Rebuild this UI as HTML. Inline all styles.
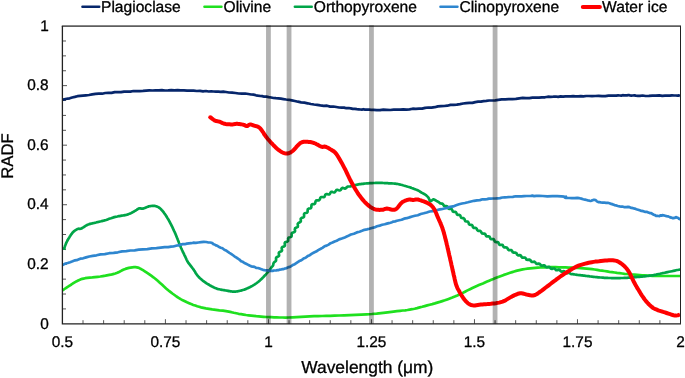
<!DOCTYPE html>
<html><head><meta charset="utf-8"><title>Spectra</title>
<style>html,body{margin:0;padding:0;background:#fff;overflow:hidden}body{width:685px;height:378px;position:relative}</style></head>
<body>
<svg width="685" height="378" viewBox="0 0 685 378" style="position:absolute;left:0;top:0;text-rendering:geometricPrecision">
<style>text{stroke:#000;stroke-width:0.3px;stroke-linejoin:round}</style>
<rect width="685" height="378" fill="#fff"/>
<path d="M62.4 308.92h3.6 M62.4 294.03h3.6 M62.4 279.15h3.6 M62.4 264.26h4.6 M62.4 249.38h3.6 M62.4 234.49h3.6 M62.4 219.61h3.6 M62.4 204.72h4.6 M62.4 189.84h3.6 M62.4 174.95h3.6 M62.4 160.07h3.6 M62.4 145.18h4.6 M62.4 130.30h3.6 M62.4 115.41h3.6 M62.4 100.53h3.6 M62.4 85.64h4.6 M62.4 70.76h3.6 M62.4 55.87h3.6 M62.4 40.99h3.6 M83.00 323.8v-3.6 M103.61 323.8v-3.6 M124.21 323.8v-3.6 M144.81 323.8v-3.6 M165.42 323.8v-4.6 M186.02 323.8v-3.6 M206.62 323.8v-3.6 M227.23 323.8v-3.6 M247.83 323.8v-3.6 M268.43 323.8v-4.6 M289.04 323.8v-3.6 M309.64 323.8v-3.6 M330.24 323.8v-3.6 M350.85 323.8v-3.6 M371.45 323.8v-4.6 M392.05 323.8v-3.6 M412.66 323.8v-3.6 M433.26 323.8v-3.6 M453.86 323.8v-3.6 M474.47 323.8v-4.6 M495.07 323.8v-3.6 M515.67 323.8v-3.6 M536.28 323.8v-3.6 M556.88 323.8v-3.6 M577.48 323.8v-4.6 M598.09 323.8v-3.6 M618.69 323.8v-3.6 M639.29 323.8v-3.6 M659.90 323.8v-3.6" stroke="#444" stroke-width="0.9" fill="none"/>
<polyline points="62.5,99.4 63.8,99.6 65.5,99.0 67.5,98.7 69.7,98.3 72.2,97.5 74.8,96.9 77.4,96.2 80.1,95.9 82.9,95.6 85.9,95.3 89.0,95.0 92.2,94.4 95.5,93.9 98.8,93.7 102.1,93.7 105.3,93.0 108.4,92.9 111.6,92.9 114.7,92.1 117.8,92.2 121.0,92.2 124.1,91.6 127.3,91.6 130.4,91.6 133.5,91.0 136.7,91.1 139.8,91.1 143.0,90.9 146.2,90.6 149.3,90.4 152.5,90.5 155.6,90.3 158.7,90.3 161.9,90.2 165.0,90.5 168.1,90.4 171.3,90.2 174.4,90.4 177.6,90.2 180.7,90.4 183.9,90.4 187.1,90.6 190.4,90.6 193.6,90.7 196.8,91.0 200.0,90.9 203.0,91.3 205.9,91.0 208.6,91.5 211.2,91.4 213.6,91.5 216.0,91.7 218.3,91.7 220.7,91.8 223.3,91.7 226.0,92.0 228.9,92.5 232.1,92.7 235.4,93.0 238.7,93.5 242.0,93.6 245.2,93.5 248.3,94.0 251.1,94.5 253.6,94.6 256.0,95.3 258.1,95.7 260.2,96.0 262.2,96.1 264.3,96.7 266.4,96.6 268.7,97.1 271.1,97.5 273.5,98.0 275.9,98.2 278.3,98.3 280.9,98.7 283.4,99.1 286.1,99.5 288.9,99.8 291.8,100.4 294.8,101.0 298.0,101.7 301.1,102.3 304.4,102.7 307.6,103.3 310.8,104.0 314.0,104.5 317.2,104.9 320.4,105.4 323.7,105.8 327.0,105.7 330.2,106.6 333.3,106.5 336.3,107.0 339.1,107.5 341.7,107.7 344.1,107.6 346.4,108.2 348.6,108.0 350.7,108.4 352.8,108.9 354.8,108.8 356.8,109.1 358.7,109.3 360.3,109.5 361.9,109.6 363.4,109.2 365.0,109.6 366.8,109.7 368.8,109.5 371.1,109.8 373.8,109.9 376.8,110.1 380.0,110.2 383.4,109.7 386.8,109.8 390.3,110.0 393.7,109.7 397.0,109.6 400.2,109.7 403.3,109.4 406.5,109.6 409.6,109.4 412.7,108.7 415.8,108.8 419.0,108.7 422.1,108.6 425.2,107.9 428.4,107.5 431.5,107.6 434.7,107.2 437.9,106.4 441.0,106.2 444.2,106.0 447.3,105.7 450.5,104.9 453.6,104.9 456.8,104.6 460.0,104.1 463.2,103.5 466.3,103.1 469.4,102.9 472.4,102.9 475.3,102.1 478.1,101.7 480.9,101.6 483.6,101.1 486.3,100.9 489.1,100.5 492.0,100.5 495.1,100.3 498.3,99.9 501.7,99.4 505.2,99.3 508.7,99.2 512.3,99.1 515.9,98.9 519.3,98.3 522.7,97.9 526.0,98.2 529.3,98.1 532.5,97.6 535.8,97.7 538.9,97.6 542.0,97.3 545.0,97.3 547.9,96.7 550.7,96.8 553.3,96.7 555.8,96.5 558.2,96.9 560.6,96.4 563.0,96.7 565.5,96.3 568.0,96.4 570.6,96.4 573.1,96.2 575.6,96.4 578.2,96.4 580.8,96.2 583.4,96.4 586.2,96.0 589.0,96.0 592.0,96.1 595.2,96.0 598.6,95.9 602.0,96.2 605.3,96.1 608.5,95.6 611.4,95.7 614.0,95.5 616.2,95.6 618.1,95.4 619.8,95.5 621.2,95.6 622.7,95.2 624.0,95.3 625.5,95.3 627.0,95.4 628.5,95.0 630.0,95.4 631.3,95.6 632.8,95.5 634.2,95.4 635.9,95.7 637.8,95.8 640.0,95.8 642.6,95.5 645.6,96.0 648.9,95.9 652.4,95.6 655.8,95.6 659.2,95.3 662.3,95.8 665.0,95.7 667.5,95.6 669.8,95.7 672.0,95.4 674.1,95.5 675.9,95.5 677.5,95.7 678.9,95.4 680.0,95.9" fill="none" stroke="#06266b" stroke-width="2.7" stroke-linejoin="round" stroke-linecap="butt"/>
<polyline points="62.5,290.3 63.3,289.8 64.5,289.0 65.8,288.1 67.3,287.1 68.8,286.2 70.1,285.3 71.4,284.5 72.6,283.7 73.8,282.9 75.1,282.1 76.3,281.4 77.6,280.8 78.8,280.2 79.8,279.8 80.9,279.3 82.1,278.9 83.5,278.6 85.2,278.2 87.3,277.9 89.7,277.6 92.3,277.4 95.0,277.1 97.7,276.8 100.3,276.5 102.9,276.1 105.5,275.7 108.1,275.2 110.7,274.7 113.1,274.1 115.3,273.5 117.3,272.8 119.0,272.0 120.7,271.1 122.2,270.3 123.8,269.5 125.4,268.9 127.1,268.4 128.9,267.9 130.6,267.6 132.3,267.3 134.0,267.2 135.5,267.2 136.8,267.4 138.0,267.6 139.1,268.0 140.2,268.6 141.5,269.3 143.0,270.2 144.8,271.3 146.8,272.6 149.0,274.1 151.2,275.7 153.4,277.3 155.6,279.0 157.7,280.8 159.8,282.7 161.9,284.6 164.0,286.6 166.1,288.5 168.2,290.3 170.3,291.9 172.4,293.5 174.5,295.0 176.5,296.5 178.6,297.8 180.7,299.1 182.8,300.3 184.9,301.3 187.0,302.3 189.1,303.2 191.2,304.1 193.3,304.9 195.3,305.6 197.2,306.3 199.1,306.8 201.1,307.4 203.4,307.9 205.9,308.4 208.9,308.9 212.2,309.4 215.8,309.8 219.4,310.3 222.9,310.7 226.0,311.2 228.8,311.7 231.4,312.2 233.9,312.8 236.3,313.3 238.6,313.8 241.1,314.2 243.6,314.6 246.1,315.0 248.6,315.3 251.2,315.6 253.7,315.9 256.2,316.2 258.7,316.4 261.1,316.6 263.6,316.8 266.1,317.0 268.6,317.1 271.3,317.2 274.0,317.3 276.7,317.4 279.5,317.5 282.4,317.5 285.5,317.6 288.9,317.5 292.6,317.4 296.7,317.2 301.0,316.9 305.4,316.6 309.7,316.4 314.0,316.2 318.1,316.1 322.1,316.0 326.1,315.9 330.2,315.8 334.5,315.7 339.1,315.5 344.2,315.3 349.7,315.1 355.4,314.9 361.2,314.6 366.7,314.3 371.8,314.0 376.6,313.6 381.1,313.1 385.5,312.6 389.6,312.1 393.5,311.6 397.0,311.2 400.1,310.8 402.8,310.5 405.2,310.3 407.4,310.0 409.7,309.6 412.1,309.2 414.6,308.7 417.1,308.1 419.7,307.4 422.2,306.8 424.7,306.1 427.2,305.4 429.7,304.7 432.2,304.1 434.8,303.4 437.3,302.6 439.8,301.9 442.3,301.1 444.8,300.3 447.3,299.4 449.8,298.5 452.3,297.6 454.8,296.6 457.3,295.5 459.8,294.3 462.4,293.1 465.0,291.7 467.5,290.4 470.0,289.2 472.4,288.0 474.6,287.0 476.8,286.0 478.9,285.1 480.9,284.2 482.9,283.4 485.0,282.5 487.1,281.6 489.2,280.7 491.3,279.8 493.4,279.0 495.5,278.1 497.6,277.3 499.7,276.5 501.8,275.7 503.8,274.9 505.9,274.2 508.0,273.5 510.1,272.8 512.2,272.1 514.2,271.5 516.2,270.9 518.3,270.4 520.5,269.9 522.7,269.4 525.1,269.0 527.5,268.7 530.1,268.4 532.7,268.1 535.3,267.9 537.8,267.7 540.3,267.5 542.7,267.4 545.1,267.3 547.6,267.2 550.2,267.2 552.9,267.2 555.8,267.2 559.0,267.3 562.2,267.3 565.5,267.4 568.7,267.6 571.8,267.7 574.8,267.8 577.9,268.0 580.8,268.2 583.8,268.4 586.6,268.6 589.4,268.9 592.1,269.2 594.6,269.5 597.1,269.9 599.6,270.3 602.0,270.6 604.5,271.0 607.0,271.4 609.5,271.8 612.0,272.1 614.6,272.5 617.1,272.9 619.6,273.2 622.1,273.5 624.6,273.8 627.2,274.0 629.7,274.3 632.2,274.5 634.7,274.7 637.2,274.9 639.7,275.1 642.2,275.3 644.8,275.4 647.3,275.6 649.8,275.7 652.3,275.8 654.8,275.9 657.3,275.9 659.9,275.9 662.4,276.0 664.9,276.0 667.6,276.0 670.5,276.0 673.4,276.0 676.1,276.0 678.4,276.0 680.0,276.0" fill="none" stroke="#1fe01f" stroke-width="2.7" stroke-linejoin="round" stroke-linecap="butt"/>
<polyline points="64.1,249.8 64.1,249.6 64.2,249.4 64.2,249.2 64.3,248.9 64.3,248.6 64.4,248.3 64.5,247.9 64.5,247.5 64.6,247.2 64.7,246.8 64.9,246.4 65.0,246.0 65.1,245.6 65.3,245.2 65.5,244.8 65.7,244.3 65.8,243.9 66.0,243.4 66.3,242.9 66.5,242.4 66.7,241.9 67.0,241.4 67.3,240.8 67.6,240.3 67.9,239.7 68.3,239.1 68.7,238.4 69.1,237.8 69.5,237.1 69.9,236.4 70.4,235.7 70.8,235.0 71.3,234.4 71.7,233.8 72.2,233.2 72.6,232.7 73.0,232.2 73.4,231.8 73.9,231.4 74.3,231.1 74.7,230.7 75.2,230.4 75.6,230.1 76.0,229.9 76.4,229.6 76.8,229.4 77.2,229.2 77.6,229.0 78.0,228.9 78.3,228.8 78.6,228.7 78.9,228.7 79.1,228.7 79.4,228.8 79.7,228.8 80.0,228.8 80.3,228.8 80.6,228.7 81.0,228.6 81.4,228.5 81.8,228.3 82.3,228.0 82.8,227.7 83.3,227.4 83.8,227.1 84.3,226.7 84.9,226.3 85.4,226.0 86.0,225.6 86.6,225.3 87.1,225.0 87.7,224.7 88.3,224.5 88.9,224.3 89.4,224.1 90.0,223.9 90.6,223.8 91.2,223.6 91.8,223.5 92.5,223.3 93.1,223.2 93.8,223.0 94.5,222.9 95.2,222.7 96.0,222.5 96.7,222.3 97.5,222.1 98.4,221.9 99.2,221.7 100.1,221.5 101.0,221.3 101.8,221.1 102.7,220.9 103.6,220.7 104.5,220.4 105.3,220.2 106.1,220.0 106.9,219.7 107.7,219.4 108.5,219.1 109.3,218.8 110.1,218.5 111.0,218.3 111.8,218.0 112.6,217.7 113.5,217.4 114.4,217.1 115.3,216.9 116.3,216.7 117.3,216.5 118.4,216.2 119.5,216.1 120.6,215.9 121.8,215.7 122.9,215.5 124.0,215.3 125.0,215.1 126.1,214.9 127.0,214.7 127.9,214.4 128.7,214.1 129.5,213.8 130.2,213.5 130.9,213.2 131.6,212.8 132.3,212.5 132.9,212.1 133.4,211.8 134.0,211.5 134.5,211.2 135.0,210.9 135.5,210.6 135.9,210.4 136.3,210.1 136.7,209.9 137.0,209.7 137.3,209.4 137.6,209.2 137.8,209.1 138.1,208.9 138.4,208.7 138.6,208.6 138.9,208.5 139.2,208.4 139.5,208.3 139.8,208.3 140.1,208.3 140.4,208.4 140.6,208.4 140.9,208.5 141.2,208.6 141.5,208.6 141.9,208.7 142.2,208.7 142.6,208.7 143.0,208.6 143.4,208.5 143.9,208.3 144.4,208.2 144.9,207.9 145.4,207.7 146.0,207.5 146.5,207.2 147.1,207.0 147.7,206.8 148.2,206.6 148.8,206.4 149.3,206.3 149.8,206.2 150.4,206.1 150.9,206.0 151.4,206.0 152.0,205.9 152.5,205.9 153.1,205.9 153.6,205.9 154.1,205.9 154.6,205.9 155.1,206.0 155.6,206.1 156.1,206.2 156.5,206.4 156.9,206.5 157.4,206.7 157.8,206.9 158.2,207.1 158.6,207.3 159.0,207.6 159.4,207.9 159.8,208.2 160.2,208.5 160.6,208.9 161.0,209.3 161.4,209.7 161.8,210.2 162.3,210.6 162.7,211.1 163.1,211.6 163.5,212.2 163.9,212.7 164.3,213.3 164.8,213.9 165.2,214.5 165.6,215.1 166.0,215.7 166.4,216.4 166.9,217.1 167.3,217.8 167.7,218.5 168.2,219.2 168.6,220.0 169.0,220.7 169.4,221.5 169.9,222.3 170.3,223.1 170.7,223.9 171.1,224.7 171.5,225.5 172.0,226.4 172.4,227.2 172.8,228.1 173.2,229.0 173.6,229.9 174.0,230.8 174.5,231.7 174.9,232.6 175.3,233.5 175.7,234.5 176.1,235.5 176.5,236.5 176.9,237.5 177.4,238.6 177.8,239.7 178.2,240.7 178.6,241.8 179.0,242.9 179.4,243.9 179.9,245.0 180.3,246.0 180.7,247.0 181.1,248.0 181.6,249.0 182.0,250.0 182.5,251.0 182.9,252.0 183.4,252.9 183.9,253.9 184.3,254.8 184.7,255.6 185.1,256.5 185.5,257.2 185.8,257.9 186.1,258.5 186.3,259.0 186.5,259.5 186.7,259.9 186.9,260.2 187.1,260.6 187.2,260.9 187.4,261.2 187.6,261.5 187.8,261.9 188.0,262.3 188.3,262.7 188.6,263.2 189.0,263.7 189.4,264.2 189.8,264.7 190.2,265.2 190.6,265.8 191.1,266.3 191.5,266.9 192.0,267.5 192.4,268.1 192.9,268.6 193.3,269.2 193.7,269.8 194.1,270.4 194.5,271.0 194.9,271.6 195.3,272.2 195.6,272.9 196.0,273.5 196.4,274.1 196.9,274.7 197.3,275.3 197.8,275.9 198.3,276.5 198.8,277.1 199.4,277.6 200.0,278.2 200.6,278.7 201.2,279.2 201.8,279.8 202.4,280.3 203.1,280.8 203.8,281.3 204.5,281.8 205.2,282.3 205.9,282.8 206.6,283.3 207.4,283.8 208.2,284.3 209.1,284.8 209.9,285.3 210.7,285.8 211.6,286.3 212.5,286.7 213.3,287.2 214.2,287.6 215.1,288.0 215.9,288.3 216.7,288.6 217.6,288.9 218.4,289.1 219.3,289.3 220.2,289.5 221.0,289.7 221.9,289.8 222.7,290.0 223.6,290.1 224.4,290.2 225.2,290.4 226.0,290.5 226.8,290.6 227.5,290.8 228.3,290.9 229.0,291.1 229.8,291.2 230.5,291.3 231.2,291.4 231.9,291.5 232.6,291.6 233.3,291.6 234.1,291.6 234.8,291.6 235.5,291.6 236.3,291.5 237.0,291.4 237.8,291.3 238.5,291.1 239.3,291.0 240.0,290.8 240.8,290.6 241.5,290.4 242.2,290.2 242.9,290.0 243.6,289.8 244.3,289.6 244.9,289.4 245.6,289.1 246.2,288.9 246.8,288.6 247.4,288.3 248.0,288.1 248.6,287.8 249.2,287.5 249.9,287.2 250.5,286.8 251.1,286.5 251.7,286.2 252.4,285.8 253.0,285.4 253.6,285.1 254.3,284.7 254.9,284.3 255.5,283.8 256.2,283.4 256.8,283.0 257.4,282.5 258.1,282.0 258.7,281.5 259.3,281.0 260.0,280.4 260.6,279.8 261.3,279.1 262.0,278.5 262.6,277.8 263.3,277.2 263.9,276.5 264.5,275.8 265.1,275.2 265.7,274.6 266.2,274.0 266.7,273.4 267.2,272.9 267.6,272.4 268.1,271.9 268.5,271.4 268.9,270.9 269.3,270.4 269.7,269.9 270.1,269.4 270.5,268.9 270.8,268.3 271.2,267.6 271.7,267.0 272.3,266.4 272.8,265.8 273.2,265.1 273.3,264.2 273.5,263.3 273.9,262.5 274.6,261.9 275.4,261.3 276.0,260.7 276.1,259.8 276.0,258.7 276.1,257.8 276.6,257.2 277.6,256.7 278.6,256.3 279.1,255.6 279.0,254.6 278.8,253.5 278.9,252.6 279.6,252.0 280.6,251.6 281.5,251.2 282.0,250.5 281.9,249.5 281.7,248.5 281.8,247.7 282.3,247.1 283.2,246.7 284.1,246.4 284.8,245.9 284.9,245.2 284.8,244.1 284.7,243.1 285.1,242.3 286.1,241.9 287.3,241.6 288.1,240.9 288.2,239.7 288.1,238.4 288.7,237.5 290.0,237.2 291.3,236.8 291.7,235.7 291.6,234.2 291.9,233.1 293.1,232.6 294.5,232.1 295.1,231.1 294.8,229.5 295.1,228.2 296.4,227.6 297.8,226.9 297.9,225.5 297.7,223.9 298.4,222.9 299.9,222.3 300.8,221.5 300.8,220.1 300.7,218.7 301.6,217.9 303.0,217.5 304.0,216.9 304.1,215.6 304.0,214.2 304.6,213.3 305.8,213.0 307.1,212.7 307.6,211.8 307.6,210.5 307.8,209.3 308.5,208.7 309.7,208.5 310.8,208.2 311.3,207.4 311.4,206.2 311.5,205.1 312.0,204.4 313.1,204.2 314.2,204.1 315.0,203.6 315.3,202.7 315.5,201.5 316.0,200.5 317.0,200.3 318.3,200.4 319.3,200.1 319.9,199.2 320.3,197.9 321.0,197.0 322.1,197.0 323.5,197.2 324.4,196.9 324.9,195.8 325.4,194.6 326.2,194.1 327.4,194.2 328.5,194.5 329.4,194.4 330.0,193.6 330.5,192.6 331.1,191.9 332.0,191.8 333.1,192.2 334.2,192.5 335.0,192.1 335.7,191.1 336.3,190.1 337.3,189.8 338.6,190.2 339.8,190.5 340.8,189.8 341.5,188.5 342.5,187.8 343.8,188.2 345.1,188.6 346.1,188.0 347.0,187.0 348.0,186.5 349.2,186.5 350.3,186.5 351.3,186.1 352.3,185.8 353.3,185.5 354.3,185.3 355.3,185.0 356.4,184.8 357.4,184.6 358.5,184.4 359.6,184.2 360.7,184.1 361.8,183.9 363.0,183.8 364.2,183.6 365.5,183.5 366.8,183.4 368.2,183.3 369.5,183.2 370.8,183.1 372.2,183.1 373.4,183.0 374.6,183.0 375.8,182.9 376.9,182.9 377.9,182.9 378.9,182.9 379.8,182.9 380.6,182.9 381.4,182.9 382.2,182.9 383.0,183.0 383.7,183.0 384.5,183.1 385.3,183.1 386.1,183.2 386.9,183.2 387.7,183.2 388.6,183.3 389.4,183.3 390.3,183.3 391.1,183.4 391.9,183.4 392.8,183.5 393.6,183.5 394.5,183.6 395.3,183.7 396.2,183.8 397.0,183.9 397.8,184.0 398.7,184.2 399.5,184.4 400.4,184.6 401.2,184.8 402.1,185.0 402.9,185.3 403.7,185.5 404.6,185.7 405.4,186.0 406.3,186.2 407.1,186.5 408.0,186.8 408.8,187.0 409.8,187.3 410.7,187.6 411.6,188.0 412.5,188.3 413.4,188.6 414.2,188.9 415.0,189.2 415.8,189.5 416.5,189.7 417.1,190.0 417.6,190.2 418.1,190.4 418.5,190.7 418.8,190.8 419.1,191.0 419.4,191.2 419.6,191.4 419.9,191.6 420.1,191.7 420.4,191.9 420.7,192.1 421.0,192.3 421.4,192.5 421.7,192.7 422.1,192.9 422.5,193.1 422.9,193.3 423.4,193.6 423.8,193.8 424.2,194.0 424.5,194.2 424.9,194.4 425.3,194.7 425.6,194.9 425.9,195.1 426.2,195.4 426.5,195.6 426.8,195.9 427.0,196.1 427.3,196.4 427.5,196.6 427.8,196.9 428.0,197.1 428.2,197.4 428.4,197.6 428.6,197.9 428.8,198.2 428.9,198.5 429.1,198.8 429.2,199.2 429.3,199.5 429.5,199.8 429.6,200.2 429.7,200.5 429.8,200.7 429.9,201.0 430.0,201.2 430.1,201.3 430.2,201.4 430.3,201.4 430.4,201.4 430.6,201.4 430.7,201.3 430.8,201.2 430.9,201.1 431.0,201.0 431.1,200.9 431.2,200.8 431.4,200.7 431.5,200.6 431.6,200.5 431.8,200.4 431.9,200.3 432.1,200.1 432.3,200.0 432.4,199.9 432.6,199.8 432.8,199.6 433.0,199.5 433.1,199.5 433.3,199.4 433.5,199.4 433.7,199.4 433.9,199.5 434.1,199.5 434.3,199.6 434.5,199.7 434.7,199.8 434.9,199.9 435.1,200.1 435.3,200.2 435.5,200.3 435.8,200.5 436.0,200.6 436.2,200.7 436.5,200.9 436.8,201.0 437.0,201.2 437.3,201.3 437.6,201.4 437.9,201.6 438.2,201.7 438.4,201.9 438.7,202.1 438.9,202.2 439.2,202.5 439.4,202.6 439.6,202.8 439.7,202.9 439.9,203.1 440.0,203.2 440.2,203.3 440.4,203.3 440.7,203.4 441.0,203.5 441.4,203.6 442.0,203.6 442.5,203.8 443.1,204.3 443.5,205.0 444.0,205.9 444.9,206.2 446.1,206.1 447.2,206.3 447.8,207.3 448.4,208.5 449.4,208.9 450.8,208.8 451.8,209.2 452.3,210.3 452.8,211.4 453.7,211.8 455.0,211.8 456.0,212.2 456.5,213.3 457.0,214.5 458.0,214.9 459.3,214.9 460.2,215.4 460.7,216.6 461.2,217.7 462.2,218.1 463.6,218.2 464.4,218.9 464.8,220.1 465.3,221.2 466.5,221.5 467.8,221.6 468.5,222.5 468.8,223.8 469.5,224.7 470.8,224.8 472.0,225.1 472.6,226.0 473.0,227.2 473.8,227.9 475.0,227.9 476.1,228.1 476.8,228.9 477.2,230.1 478.0,230.8 479.1,230.8 480.3,230.9 481.0,231.6 481.5,232.7 482.2,233.5 483.3,233.7 484.5,233.6 485.3,234.2 485.8,235.4 486.5,236.3 487.5,236.4 488.8,236.4 489.6,236.8 490.1,237.9 490.6,238.9 491.5,239.2 492.6,239.1 493.6,239.2 494.1,239.8 494.5,240.7 494.8,241.5 495.4,242.0 496.1,242.1 497.0,242.0 497.8,242.1 498.4,242.6 498.8,243.4 499.1,244.3 499.8,244.8 500.8,244.9 501.8,244.8 502.7,245.1 503.2,246.1 503.7,247.1 504.5,247.5 505.7,247.4 506.8,247.5 507.5,248.3 508.0,249.4 508.9,250.1 510.1,250.0 511.4,250.1 512.1,251.0 512.8,252.3 513.9,252.7 515.4,252.6 516.5,253.2 517.1,254.6 518.2,255.3 519.7,255.1 520.8,255.5 521.5,256.8 522.4,257.7 523.8,257.6 525.1,257.5 525.9,258.5 526.6,259.7 527.8,259.9 529.2,259.6 530.3,260.0 531.0,261.2 531.9,262.0 533.2,261.8 534.5,261.7 535.4,262.5 536.1,263.6 537.2,263.9 538.6,263.6 539.7,263.8 540.5,264.8 541.4,265.7 542.6,265.6 543.9,265.3 544.9,265.8 545.7,266.9 546.7,267.4 547.9,267.1 549.1,266.9 550.1,267.6 550.9,268.7 552.0,268.9 553.2,268.5 554.4,268.4 555.3,269.3 556.2,270.2 557.3,270.2 558.5,269.7 559.6,269.8 560.4,270.8 561.2,271.6 562.2,271.6 563.4,271.2 564.4,271.3 565.2,272.1 565.9,273.0 566.9,273.3 568.0,272.9 569.0,272.8 569.9,273.3 570.8,274.0 571.7,274.2 572.8,274.2 573.8,274.3 574.9,274.5 575.9,274.7 577.0,274.8 578.0,275.0 579.1,275.1 580.2,275.2 581.2,275.3 582.3,275.4 583.3,275.6 584.4,275.7 585.5,275.8 586.5,276.0 587.6,276.1 588.6,276.2 589.7,276.4 590.7,276.5 591.8,276.6 592.8,276.8 593.9,276.9 594.9,277.0 596.0,277.1 597.0,277.2 598.0,277.3 599.1,277.4 600.1,277.5 601.2,277.5 602.2,277.6 603.2,277.7 604.3,277.8 605.3,277.8 606.4,277.9 607.4,277.9 608.5,278.0 609.5,278.0 610.5,278.0 611.6,278.1 612.6,278.1 613.7,278.1 614.7,278.1 615.8,278.1 616.8,278.1 617.9,278.1 618.9,278.1 620.0,278.1 621.0,278.0 622.1,278.0 623.1,278.0 624.2,277.9 625.2,277.9 626.2,277.8 627.2,277.8 628.2,277.7 629.3,277.6 630.3,277.5 631.4,277.5 632.5,277.4 633.6,277.3 634.7,277.2 635.9,277.1 637.1,277.0 638.3,276.9 639.5,276.8 640.8,276.7 642.1,276.6 643.4,276.5 644.7,276.3 646.0,276.2 647.3,276.0 648.5,275.9 649.8,275.7 651.1,275.5 652.3,275.3 653.6,275.1 654.8,274.8 656.1,274.6 657.3,274.3 658.6,274.0 659.9,273.8 661.1,273.5 662.4,273.2 663.6,273.0 664.9,272.7 666.2,272.4 667.6,272.1 669.0,271.8 670.5,271.5 672.0,271.2 673.4,270.9 674.8,270.6 676.1,270.3 677.3,270.0 678.4,269.8 679.3,269.6 680.0,269.4" fill="none" stroke="#00a548" stroke-width="2.7" stroke-linejoin="round" stroke-linecap="butt"/>
<polyline points="62.5,264.9 63.8,264.4 65.6,263.5 67.7,263.0 70.1,262.2 72.6,261.3 75.1,260.3 77.7,259.8 80.3,258.7 83.1,258.3 86.1,257.4 89.3,256.5 92.7,255.9 96.5,255.3 100.5,254.4 104.8,254.1 109.2,253.2 113.6,252.9 117.9,252.3 122.1,251.4 126.3,251.1 130.4,250.5 134.6,250.3 138.8,249.7 143.0,249.3 147.3,249.1 151.9,248.3 156.4,248.2 160.7,247.7 164.7,247.2 168.2,247.2 171.0,246.7 173.3,246.5 175.2,246.0 177.0,245.5 178.8,245.4 180.7,244.6 182.8,244.2 184.8,244.2 186.8,243.6 188.9,243.3 191.1,243.2 193.3,242.7 195.8,242.8 198.4,242.5 201.2,242.2 203.8,241.9 206.3,242.0 208.4,242.5 210.1,242.5 211.4,242.8 212.5,243.3 213.5,244.2 214.6,244.5 215.9,245.4 217.4,245.8 219.1,247.0 220.8,247.7 222.5,248.3 224.3,249.7 226.0,250.4 227.7,251.7 229.4,252.8 231.1,253.8 232.7,255.0 234.4,256.3 236.1,257.4 237.8,258.5 239.4,259.6 241.1,261.2 242.8,261.8 244.4,263.0 246.1,263.7 247.8,264.6 249.5,265.5 251.2,266.3 252.8,266.6 254.5,266.9 256.2,267.9 257.9,268.0 259.6,268.6 261.4,269.2 263.0,269.8 264.7,270.1 266.2,270.3 267.6,270.4 268.9,270.7 270.2,270.9 271.4,270.9 272.6,270.9 273.8,270.5 275.1,270.5 276.3,270.4 277.6,270.2 278.8,270.1 280.0,269.6 281.3,269.5 282.5,269.1 283.6,269.1 284.8,268.5 286.0,268.3 287.3,267.7 288.9,267.1 290.7,266.5 292.7,265.1 294.8,264.2 297.0,262.7 299.3,261.1 301.4,260.2 303.5,258.6 305.6,257.8 307.7,256.1 309.8,255.2 311.9,253.7 314.0,252.5 316.1,251.6 318.2,250.1 320.3,249.0 322.4,247.8 324.5,246.3 326.6,245.6 328.6,244.6 330.6,243.2 332.5,242.5 334.6,241.5 336.7,240.7 339.1,239.4 341.8,238.5 344.7,237.4 347.8,236.1 350.9,234.5 353.9,233.7 356.8,232.4 359.5,231.7 362.0,230.8 364.5,229.8 366.9,229.4 369.3,228.8 371.8,228.0 374.4,227.4 377.0,226.3 379.7,225.6 382.2,224.8 384.7,224.3 386.9,223.6 388.8,223.1 390.5,222.7 391.9,222.2 393.4,221.6 395.1,221.4 397.0,220.8 399.2,220.3 401.6,219.8 404.1,218.7 406.7,218.2 409.4,217.4 412.1,216.5 414.9,215.8 417.8,215.2 420.7,214.0 423.7,213.3 426.7,212.5 429.7,211.5 432.6,211.2 435.6,210.4 438.5,209.7 441.4,209.2 444.4,208.5 447.3,207.9 450.2,206.9 453.2,206.4 456.1,205.3 459.0,204.3 462.0,203.5 464.9,203.0 467.9,202.3 471.0,201.5 474.0,200.8 477.0,200.3 479.9,200.1 482.5,199.3 484.9,199.4 487.0,199.1 489.0,198.6 490.9,198.6 492.9,198.5 495.1,198.5 497.4,198.3 499.9,198.1 502.4,197.5 504.9,197.3 507.5,197.2 510.1,197.0 512.8,196.9 515.6,196.3 518.5,196.4 521.3,196.3 524.1,196.1 526.6,196.0 528.8,196.0 530.6,196.0 532.3,195.6 534.1,196.1 536.3,195.8 539.1,195.9 542.8,196.0 547.4,196.3 552.4,196.2 557.2,196.2 561.3,196.3 564.3,196.7 565.7,196.8 566.0,196.7 565.6,197.0 565.0,197.3 564.8,197.5 565.5,197.8 567.1,197.8 569.3,198.0 571.9,198.2 574.6,198.2 577.2,197.9 579.4,198.2 581.3,198.6 583.2,199.2 585.0,199.6 586.6,200.0 588.1,200.5 589.4,200.7 590.5,201.0 591.5,200.7 592.3,200.3 593.0,200.1 593.7,199.8 594.5,199.8 595.3,200.0 596.0,200.4 596.7,201.2 597.5,201.6 598.4,202.1 599.5,202.1 600.9,202.5 602.5,202.6 604.2,202.5 606.0,202.8 607.8,202.8 609.5,203.2 611.2,203.9 612.9,204.4 614.5,205.1 616.2,205.4 617.9,206.0 619.6,206.4 621.3,206.6 623.0,206.7 624.7,207.2 626.3,207.2 628.0,206.9 629.7,207.2 631.4,207.9 633.0,208.2 634.7,208.6 636.4,209.2 638.0,209.7 639.7,210.3 641.4,210.9 643.2,211.2 644.9,211.8 646.6,211.8 648.3,212.5 649.8,213.1 651.2,213.2 652.5,214.0 653.8,214.7 655.0,215.1 656.1,215.8 657.3,215.9 658.4,216.0 659.4,216.1 660.4,215.4 661.4,215.7 662.4,215.2 663.6,215.3 665.0,215.7 666.5,216.1 668.2,216.4 669.7,217.1 671.2,217.6 672.4,218.1 673.3,218.2 674.0,217.9 674.6,217.9 675.1,217.7 675.6,217.3 676.2,217.2 676.9,217.6 677.6,217.8 678.3,218.0 679.0,218.8 679.6,219.1 680.0,219.1" fill="none" stroke="#2e86cf" stroke-width="2.7" stroke-linejoin="round" stroke-linecap="butt"/>
<polyline points="210.3,117.2 210.8,117.6 211.6,118.2 212.4,118.9 213.4,119.6 214.3,120.2 215.1,120.7 215.8,121.0 216.5,121.1 217.2,121.2 217.8,121.3 218.5,121.4 219.3,121.6 220.1,121.9 220.9,122.3 221.8,122.7 222.6,123.1 223.6,123.5 224.6,123.8 225.7,124.0 227.0,124.2 228.3,124.3 229.6,124.3 230.9,124.4 232.0,124.4 233.0,124.4 233.9,124.2 234.7,124.1 235.5,123.9 236.4,123.8 237.3,123.8 238.3,123.9 239.4,124.0 240.6,124.2 241.7,124.4 242.7,124.6 243.6,124.8 244.3,125.0 244.9,125.3 245.4,125.6 245.8,125.9 246.3,126.0 246.8,126.1 247.3,126.0 247.8,125.7 248.3,125.3 248.9,124.9 249.4,124.6 250.0,124.5 250.6,124.5 251.3,124.7 252.0,124.9 252.8,125.2 253.5,125.5 254.2,125.7 254.9,125.9 255.6,126.1 256.4,126.2 257.1,126.4 257.8,126.7 258.4,127.0 259.0,127.4 259.5,127.8 260.1,128.3 260.6,128.9 261.1,129.5 261.6,130.1 262.1,130.8 262.6,131.6 263.2,132.4 263.7,133.3 264.2,134.2 264.8,135.0 265.4,135.8 265.9,136.5 266.5,137.3 267.1,138.1 267.8,139.0 268.7,140.0 269.8,141.2 271.0,142.6 272.4,144.0 273.7,145.5 275.1,146.8 276.3,148.0 277.4,149.0 278.5,149.9 279.6,150.7 280.6,151.4 281.6,152.0 282.6,152.5 283.5,152.9 284.4,153.2 285.2,153.4 286.0,153.6 286.8,153.6 287.6,153.5 288.4,153.3 289.3,153.0 290.1,152.7 290.9,152.2 291.8,151.6 292.6,151.0 293.5,150.2 294.3,149.3 295.2,148.3 296.1,147.3 296.9,146.3 297.7,145.5 298.4,144.8 299.0,144.2 299.6,143.7 300.1,143.2 300.7,142.8 301.4,142.5 302.1,142.2 302.9,142.0 303.7,141.8 304.6,141.7 305.5,141.7 306.5,141.7 307.6,141.8 308.8,141.9 310.1,142.1 311.4,142.3 312.7,142.6 314.0,143.0 315.3,143.5 316.6,144.2 318.0,144.9 319.3,145.7 320.5,146.3 321.5,146.7 322.3,146.9 322.9,146.9 323.5,146.7 324.0,146.6 324.6,146.6 325.3,146.7 326.2,147.0 327.3,147.5 328.4,148.1 329.5,148.7 330.6,149.4 331.6,150.0 332.5,150.6 333.3,151.0 334.0,151.5 334.8,152.2 335.6,153.1 336.6,154.3 337.7,156.0 338.9,158.0 340.2,160.3 341.6,162.7 342.9,165.2 344.2,167.6 345.5,170.0 346.7,172.6 347.9,175.2 349.2,177.8 350.4,180.3 351.7,182.7 353.0,185.0 354.2,187.2 355.5,189.4 356.8,191.5 358.0,193.5 359.3,195.3 360.6,197.0 361.8,198.6 363.1,200.1 364.3,201.5 365.5,202.8 366.8,204.0 368.1,205.1 369.3,206.1 370.6,207.1 371.9,207.9 373.1,208.5 374.4,209.1 375.7,209.5 377.0,209.7 378.3,209.8 379.6,209.9 380.8,209.8 381.9,209.8 382.9,209.7 383.7,209.5 384.5,209.2 385.2,208.9 386.0,208.7 386.9,208.6 387.9,208.7 389.0,208.9 390.1,209.2 391.2,209.5 392.3,209.7 393.2,209.8 394.0,209.8 394.6,209.7 395.2,209.5 395.7,209.2 396.3,208.8 397.0,208.3 397.7,207.5 398.5,206.5 399.3,205.4 400.2,204.3 401.1,203.2 402.0,202.4 403.0,201.7 404.0,201.2 405.1,200.7 406.2,200.3 407.3,199.9 408.3,199.7 409.2,199.6 410.2,199.6 411.1,199.7 411.9,199.8 412.7,199.9 413.5,199.9 414.2,199.8 414.8,199.7 415.3,199.6 415.9,199.4 416.5,199.4 417.2,199.4 418.0,199.5 419.0,199.8 419.9,200.1 421.0,200.4 421.9,200.8 422.9,201.1 423.8,201.4 424.8,201.8 425.7,202.2 426.6,202.6 427.4,203.0 428.2,203.4 428.9,203.8 429.6,204.2 430.2,204.6 430.8,205.0 431.3,205.5 431.9,206.0 432.4,206.6 432.9,207.1 433.3,207.8 433.8,208.5 434.3,209.3 434.8,210.3 435.4,211.5 436.1,213.0 436.7,214.6 437.4,216.2 438.0,217.7 438.6,219.0 439.1,220.1 439.5,221.0 439.9,221.9 440.3,222.7 440.6,223.6 441.0,224.5 441.4,225.5 441.8,226.5 442.2,227.5 442.5,228.5 442.9,229.6 443.3,230.8 443.7,232.1 444.0,233.4 444.4,234.8 444.8,236.2 445.1,237.6 445.5,239.0 445.8,240.4 446.2,241.7 446.5,243.1 446.8,244.5 447.2,245.9 447.5,247.3 447.8,248.8 448.2,250.3 448.5,251.8 448.9,253.4 449.2,254.9 449.6,256.5 450.0,258.1 450.3,259.7 450.7,261.4 451.1,263.0 451.4,264.7 451.8,266.3 452.2,267.9 452.5,269.6 452.9,271.2 453.3,272.8 453.6,274.4 454.0,276.0 454.4,277.6 454.7,279.2 455.1,280.8 455.5,282.4 455.9,283.9 456.3,285.3 456.8,286.6 457.3,287.8 457.9,289.0 458.5,290.0 459.1,291.0 459.6,292.0 460.1,292.9 460.5,293.7 460.9,294.4 461.4,295.1 461.8,295.8 462.3,296.5 462.8,297.3 463.3,298.1 463.9,298.8 464.4,299.6 465.0,300.3 465.6,301.0 466.2,301.6 466.8,302.2 467.4,302.8 468.0,303.3 468.6,303.7 469.3,304.1 469.9,304.4 470.6,304.8 471.2,305.0 471.9,305.2 472.7,305.3 473.7,305.4 474.9,305.4 476.3,305.2 477.8,305.0 479.3,304.8 480.9,304.6 482.5,304.4 484.1,304.3 485.7,304.2 487.4,304.1 489.1,303.9 490.8,303.8 492.5,303.6 494.2,303.4 495.9,303.2 497.5,302.9 499.2,302.6 500.9,302.1 502.6,301.6 504.3,300.9 506.1,299.9 507.8,298.9 509.5,297.9 511.2,296.9 512.7,296.1 514.1,295.4 515.4,294.8 516.6,294.3 517.8,293.8 519.0,293.5 520.2,293.3 521.5,293.3 522.7,293.5 524.0,293.8 525.3,294.2 526.5,294.6 527.7,294.8 528.8,295.0 529.9,295.2 530.9,295.4 531.9,295.5 533.0,295.5 534.0,295.3 535.0,295.0 536.0,294.5 536.9,294.0 537.9,293.3 539.0,292.5 540.3,291.6 541.8,290.6 543.4,289.4 545.1,288.0 546.9,286.7 548.7,285.3 550.4,284.0 552.1,282.7 553.8,281.4 555.6,280.1 557.2,278.8 558.9,277.6 560.4,276.5 561.8,275.5 563.1,274.7 564.3,273.8 565.5,273.1 566.7,272.3 568.0,271.5 569.4,270.6 570.8,269.7 572.3,268.8 573.8,268.0 575.3,267.1 576.9,266.4 578.5,265.7 580.1,265.1 581.8,264.6 583.5,264.1 585.2,263.6 586.9,263.2 588.6,262.8 590.2,262.5 591.8,262.2 593.5,261.9 595.2,261.6 597.0,261.4 598.9,261.2 601.0,260.9 603.1,260.7 605.1,260.5 607.1,260.4 608.8,260.3 610.3,260.3 611.7,260.2 613.0,260.3 614.2,260.4 615.3,260.6 616.5,260.9 617.7,261.4 618.9,262.0 620.0,262.7 621.2,263.5 622.3,264.3 623.3,265.2 624.3,266.1 625.2,267.0 626.1,268.0 627.0,269.1 627.8,270.2 628.7,271.5 629.6,273.0 630.4,274.6 631.2,276.3 632.0,278.1 632.9,279.9 633.7,281.5 634.5,283.0 635.3,284.5 636.1,285.9 636.9,287.4 637.8,288.8 638.7,290.3 639.7,291.9 640.7,293.6 641.8,295.3 642.9,296.9 644.0,298.5 645.0,299.9 646.0,301.2 647.1,302.4 648.1,303.5 649.1,304.5 650.1,305.4 651.0,306.2 651.8,306.9 652.4,307.4 653.0,307.9 653.7,308.3 654.5,308.7 655.5,309.2 656.8,309.7 658.2,310.3 659.9,310.8 661.5,311.3 663.2,311.9 664.9,312.4 666.6,313.0 668.4,313.6 670.2,314.2 671.9,314.8 673.5,315.2 674.9,315.5 676.1,315.6 677.2,315.4 678.1,315.2 678.9,314.9 679.5,314.7 680.0,314.5" fill="none" stroke="#ff0000" stroke-width="4.0" stroke-linejoin="round" stroke-linecap="butt"/>
<circle cx="210.3" cy="117.2" r="2.05" fill="#ff0000"/>
<path d="M61.8 26.1H681.0" stroke="#5e5e5e" stroke-width="1.6" fill="none"/>
<path d="M680.5 26.1V323.8" stroke="#222" stroke-width="1" fill="none"/>
<path d="M62.4 26.1V324.40000000000003M61.8 323.8H681.0" stroke="#222" stroke-width="1.3" fill="none"/>
<rect x="266.03" y="25.3" width="4.8" height="298.50" fill="#000" fill-opacity="0.3"/>
<rect x="286.64" y="25.3" width="4.8" height="298.50" fill="#000" fill-opacity="0.3"/>
<rect x="369.05" y="25.3" width="4.8" height="298.50" fill="#000" fill-opacity="0.3"/>
<rect x="492.67" y="25.3" width="4.8" height="298.50" fill="#000" fill-opacity="0.3"/>
<path d="M82.4 6.7H99.3" stroke="#06266b" stroke-width="2.4" stroke-linecap="round"/>
<text x="101.0" y="12.0" font-family="Liberation Sans, Arial, sans-serif" font-size="15.6" fill="#000">Plagioclase</text>
<path d="M204.4 6.7H221.5" stroke="#1fe01f" stroke-width="2.4" stroke-linecap="round"/>
<text x="223.5" y="12.0" font-family="Liberation Sans, Arial, sans-serif" font-size="15.6" fill="#000">Olivine</text>
<path d="M294.8 6.7H311.8" stroke="#00a548" stroke-width="2.4" stroke-linecap="round"/>
<text x="313.8" y="12.0" font-family="Liberation Sans, Arial, sans-serif" font-size="15.6" fill="#000">Orthopyroxene</text>
<path d="M440.4 6.7H457.5" stroke="#2e86cf" stroke-width="2.4" stroke-linecap="round"/>
<text x="459.4" y="12.0" font-family="Liberation Sans, Arial, sans-serif" font-size="15.6" fill="#000">Clinopyroxene</text>
<path d="M582.8 6.9H599.9" stroke="#ff0000" stroke-width="4.0" stroke-linecap="round"/>
<text x="602.1" y="12.0" font-family="Liberation Sans, Arial, sans-serif" font-size="15.6" fill="#000">Water ice</text>
<text x="48.7" y="328.50" text-anchor="end" font-family="Liberation Sans, Arial, sans-serif" font-size="15.4" fill="#000">0</text>
<text x="48.7" y="268.96" text-anchor="end" font-family="Liberation Sans, Arial, sans-serif" font-size="15.4" fill="#000">0.2</text>
<text x="48.7" y="209.42" text-anchor="end" font-family="Liberation Sans, Arial, sans-serif" font-size="15.4" fill="#000">0.4</text>
<text x="48.7" y="149.88" text-anchor="end" font-family="Liberation Sans, Arial, sans-serif" font-size="15.4" fill="#000">0.6</text>
<text x="48.7" y="90.34" text-anchor="end" font-family="Liberation Sans, Arial, sans-serif" font-size="15.4" fill="#000">0.8</text>
<text x="48.7" y="30.80" text-anchor="end" font-family="Liberation Sans, Arial, sans-serif" font-size="15.4" fill="#000">1</text>
<text x="62.40" y="347.4" text-anchor="middle" font-family="Liberation Sans, Arial, sans-serif" font-size="15.4" fill="#000">0.5</text>
<text x="165.42" y="347.4" text-anchor="middle" font-family="Liberation Sans, Arial, sans-serif" font-size="15.4" fill="#000">0.75</text>
<text x="268.43" y="347.4" text-anchor="middle" font-family="Liberation Sans, Arial, sans-serif" font-size="15.4" fill="#000">1</text>
<text x="371.45" y="347.4" text-anchor="middle" font-family="Liberation Sans, Arial, sans-serif" font-size="15.4" fill="#000">1.25</text>
<text x="474.47" y="347.4" text-anchor="middle" font-family="Liberation Sans, Arial, sans-serif" font-size="15.4" fill="#000">1.5</text>
<text x="577.48" y="347.4" text-anchor="middle" font-family="Liberation Sans, Arial, sans-serif" font-size="15.4" fill="#000">1.75</text>
<text x="680.50" y="347.4" text-anchor="middle" font-family="Liberation Sans, Arial, sans-serif" font-size="15.4" fill="#000">2</text>
<text x="367.3" y="372.9" text-anchor="middle" font-family="Liberation Sans, Arial, sans-serif" font-size="17.4" fill="#000">Wavelength (μm)</text>
<text transform="translate(13.3 156) rotate(-90)" text-anchor="middle" font-family="Liberation Sans, Arial, sans-serif" font-size="16.8" fill="#000">RADF</text>
</svg>
</body></html>
